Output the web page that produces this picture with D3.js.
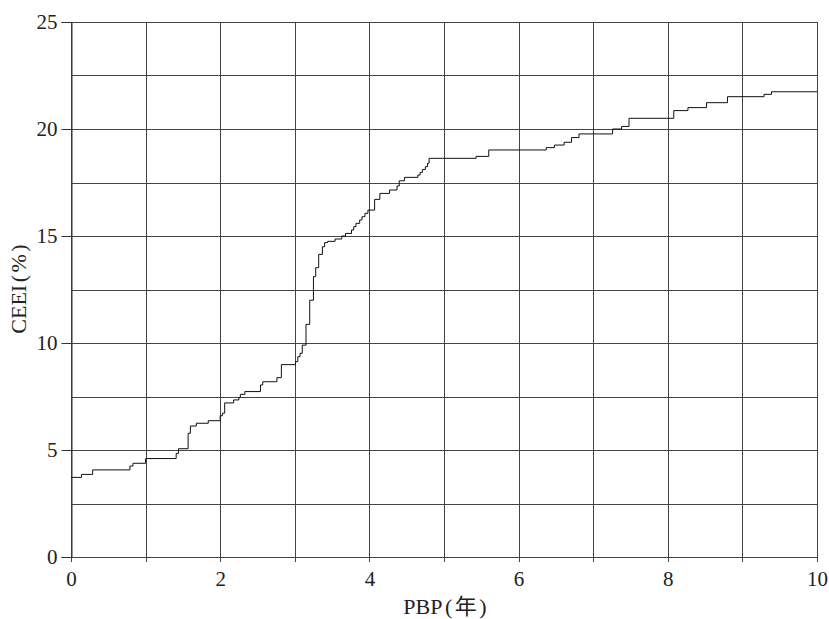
<!DOCTYPE html>
<html>
<head>
<meta charset="utf-8">
<script src="https://cdn.jsdelivr.net/npm/d3@7"></script>
<style>
  body { margin: 0; background: #fff; }
  svg text { font-family: "Liberation Serif", "Noto Sans CJK SC", serif; fill: #222; }
</style>
</head>
<body>
<div id="chart"></div>
<script>
// step curve: PBP (years) -> CEEI (%)
const pbp = [0, 0.14, 0.29, 0.79, 0.83, 1.0, 1.41, 1.44, 1.57, 1.6, 1.68, 1.84,
  2.0, 2.03, 2.06, 2.18, 2.25, 2.27, 2.33, 2.54, 2.57, 2.76, 2.82,
  3.01, 3.04, 3.07, 3.1, 3.15, 3.2, 3.25, 3.28, 3.32, 3.37, 3.4, 3.44, 3.54,
  3.63, 3.68, 3.76, 3.79, 3.82, 3.87, 3.9, 3.94, 3.98,
  4.07, 4.14, 4.27, 4.37, 4.4, 4.47, 4.65, 4.68, 4.71, 4.75, 4.78, 4.8,
  5.43, 5.6, 6.37, 6.48, 6.61, 6.71, 6.81, 7.26, 7.38, 7.48,
  8.08, 8.27, 8.52, 8.8, 9.29, 9.39, 10];
const ceei = [3.72, 3.86, 4.07, 4.25, 4.38, 4.6, 4.84, 5.06, 5.78, 6.12, 6.25, 6.37,
  6.6, 6.72, 7.2, 7.34, 7.45, 7.6, 7.73, 8.04, 8.19, 8.38, 8.99,
  9.13, 9.36, 9.52, 9.9, 10.87, 12.0, 13.1, 13.52, 14.14, 14.5, 14.69, 14.75, 14.86,
  15.0, 15.12, 15.28, 15.44, 15.59, 15.75, 15.9, 16.06, 16.21,
  16.71, 16.99, 17.15, 17.34, 17.58, 17.74, 17.85, 17.97, 18.11, 18.24, 18.4, 18.63,
  18.72, 19.02, 19.13, 19.25, 19.38, 19.6, 19.77, 20.0, 20.12, 20.5,
  20.86, 21.0, 21.23, 21.51, 21.62, 21.74, 21.74];

const xTicks = [0, 2, 4, 6, 8, 10];
const yTicks = [0, 5, 10, 15, 20, 25];
const xGrid = d3.range(0, 11, 1);
const yGrid = d3.range(0, 25.1, 2.5);

const width = 829, height = 619;
const margin = {top: 22, right: 12, bottom: 62, left: 71};

const svg = d3.select("#chart").append("svg")
  .attr("width", width)
  .attr("height", height);

const x = d3.scaleLinear().domain([0, 10]).range([margin.left, width - margin.right]);
const y = d3.scaleLinear().domain([0, 25]).range([height - margin.bottom, margin.top]);

// grid
const grid = svg.append("g").attr("stroke", "#444").attr("stroke-width", 1);
grid.selectAll("line.v").data(xGrid).enter().append("line")
  .attr("class", "v")
  .attr("x1", d => Math.round(x(d)) + 0.5).attr("x2", d => Math.round(x(d)) + 0.5)
  .attr("y1", y(25)).attr("y2", y(0) + 5);
grid.selectAll("line.h").data(yGrid).enter().append("line")
  .attr("class", "h")
  .attr("y1", d => Math.round(y(d)) + 0.5).attr("y2", d => Math.round(y(d)) + 0.5)
  .attr("x1", x(0)).attr("x2", x(10));

// axes (labels + short outer ticks)
const xAxis = svg.append("g")
  .attr("transform", `translate(0,${Math.round(y(0)) + 0.5})`)
  .call(d3.axisBottom(x).tickValues(xTicks).tickSize(0).tickPadding(14).tickFormat(d3.format("d")));
xAxis.select(".domain").remove();
xAxis.selectAll("text").attr("font-size", 21);

const yAxis = svg.append("g")
  .attr("transform", `translate(${Math.round(x(0)) + 0.5},0)`)
  .call(d3.axisLeft(y).tickValues(yTicks).tickSize(10).tickPadding(4).tickFormat(d3.format("d")));
yAxis.select(".domain").attr("stroke", "#333");
yAxis.selectAll(".tick line").attr("stroke", "#333");
yAxis.selectAll("text").attr("font-size", 21);

// step line
const pts = pbp.map((d, i) => [d, ceei[i]]);
const line = d3.line()
  .x(d => x(d[0]))
  .y(d => y(d[1]))
  .curve(d3.curveStepAfter);

svg.append("path")
  .datum(pts)
  .attr("d", line)
  .attr("fill", "none")
  .attr("stroke", "#111")
  .attr("stroke-width", 1);

// axis titles, parens padded a little like the original typesetting
const label = (sel, parts) => {
  parts.forEach((p, i) => {
    sel.append("tspan").attr("dx", i === 0 ? 0 : 2.5).text(p);
  });
};

const xt = svg.append("text")
  .attr("x", 445).attr("y", 614)
  .attr("text-anchor", "middle")
  .attr("font-size", 22);
label(xt, ["PBP", "(", "年", ")"]);

const yt = svg.append("text")
  .attr("transform", "translate(26,289) rotate(-90)")
  .attr("text-anchor", "middle")
  .attr("font-size", 22);
label(yt, ["CEEI", "(", "%", ")"]);
</script>
</body>
</html>
